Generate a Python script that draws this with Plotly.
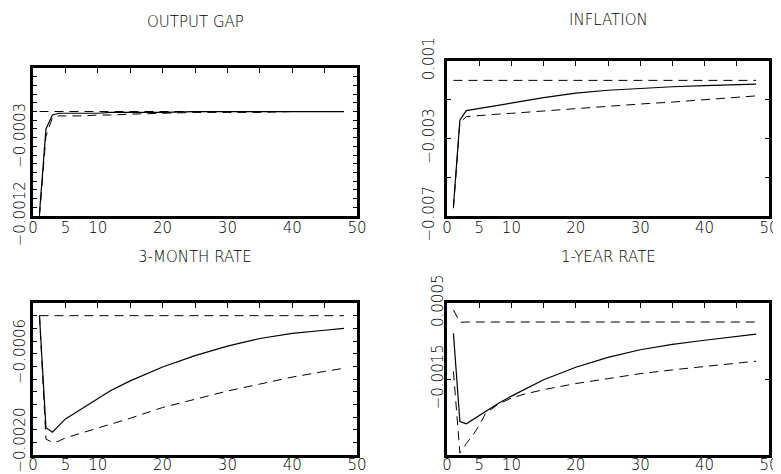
import plotly.graph_objects as go

W, H = 781, 474
OFF = 8  # the page body places the figure 8 px from the top-left corner

# ---------------- data ----------------
periods = [1, 2, 3, 4, 5, 6, 8, 10, 12, 15, 20, 25, 30, 35, 40, 45, 48]

gap_irf = [-0.00117, -0.00020, -0.00004, -0.00002, -0.00002, -0.00002, -0.00002, -0.00002,
           -0.00001, -0.00001, -0.00001, 0.0, 0.0, 0.0, 0.0, 0.0, 0.0]
gap_lo = [-0.00120, -0.00028, -0.00007, -0.00005, -0.00005, -0.00005, -0.00005, -0.00004,
          -0.00004, -0.00003, -0.00002, -0.00001, -0.00001, -0.00001, 0.0, 0.0, 0.0]
gap_hi = [0.0, 0.0, 0.0, 0.0, 0.0, 0.0, 0.0, 0.0, 0.0, 0.0, 0.0, 0.0, 0.0, 0.0, 0.0, 0.0, 0.0]

inf_irf = [-0.0065, -0.00205, -0.00156, -0.00150, -0.00145, -0.00139, -0.00128, -0.00118,
           -0.00106, -0.00089, -0.00066, -0.00051, -0.00041, -0.00033, -0.00027, -0.00022, -0.00019]
inf_lo = [-0.0066, -0.00218, -0.00187, -0.00184, -0.00181, -0.00179, -0.00174, -0.00170,
          -0.00165, -0.00158, -0.00144, -0.00133, -0.00122, -0.00112, -0.00101, -0.00090, -0.00080]
inf_hi = [0.0, 0.0, 0.0, 0.0, 0.0, 0.0, 0.0, 0.0, 0.0, 0.0, 0.0, 0.0, 0.0, 0.0, 0.0, 0.0, 0.0]

m3_irf = [0.0, -0.00177, -0.00184, -0.00174, -0.00163, -0.00157, -0.00144, -0.00130,
          -0.00118, -0.00103, -0.00081, -0.00063, -0.00048, -0.00036, -0.00028, -0.00023, -0.00020]
m3_lo = [0.0, -0.00195, -0.00200, -0.00198, -0.00193, -0.00190, -0.00184, -0.00177,
         -0.00171, -0.00162, -0.00145, -0.00132, -0.00119, -0.00108, -0.00097, -0.00088, -0.00083]
m3_hi = [0.0, 0.0, 0.0, 0.0, 0.0, 0.0, 0.0, 0.0, 0.0, 0.0, 0.0, 0.0, 0.0, 0.0, 0.0, 0.0, 0.0]

y1_irf = [-0.00030, -0.00262, -0.00268, -0.00257, -0.00246, -0.00236, -0.00214, -0.00195,
          -0.00178, -0.00152, -0.00119, -0.00093, -0.00073, -0.00059, -0.00048, -0.00038, -0.00032]
y1_lo = [-0.00130, -0.00345, -0.00320, -0.00298, -0.00272, -0.00240, -0.00216, -0.00200,
         -0.00190, -0.00178, -0.00162, -0.00149, -0.00136, -0.00126, -0.00117, -0.00108, -0.00103]
y1_hi = [0.00032, -0.00001, 0.0, 0.0, 0.0, 0.0, 0.0, 0.0, 0.0, 0.0, 0.0, 0.0, 0.0, 0.0, 0.0, 0.0, 0.0]

titles = ["OUTPUT GAP", "INFLATION", "3-MONTH RATE", "1-YEAR RATE"]

x_range = [0, 50]
x_tickvals = [0, 5, 10, 20, 30, 40, 50]
x_ticktext = ["0", "5", "10", "20", "30", "40", "50"]
top_tickvals = [5, 10, 15, 20, 25, 30, 35, 40, 45]

gap_range = [-0.0012, 0.0005]
gap_tickvals = [-0.0012, -0.0011, -0.0010, -0.0009, -0.0008, -0.0007, -0.0006, -0.0005, -0.0004,
                -0.0003, -0.0002, -0.0001, 0.0, 0.0001, 0.0002, 0.0003, 0.0004, 0.0005]
gap_ticktext = ["\u22120.0012", "", "", "", "", "", "", "", "",
                "\u22120.0003", "", "", "", "", "", "", "", ""]

inf_range = [-0.007, 0.001]
inf_tickvals = [-0.007, -0.005, -0.003, -0.001, 0.001]
inf_ticktext = ["\u22120.007", "", "\u22120.003", "", "0.001"]

m3_range = [-0.0022, 0.0002]
m3_tickvals = [-0.0022, -0.0020, -0.0018, -0.0016, -0.0014, -0.0012, -0.0010, -0.0008, -0.0006,
               -0.0004, -0.0002, 0.0, 0.0002]
m3_ticktext = ["", "\u22120.0020", "", "", "", "", "", "", "\u22120.0006", "", "", "", ""]

y1_range = [-0.0035, 0.0005]
y1_tickvals = [-0.0035, -0.0015, 0.0005]
y1_ticktext = ["", "\u22120.0015", "0.0005"]

# ---------------- layout geometry (pixels in the window) ----------------
boxes = [  # left, right, top, bottom
    (33, 357, 68, 216),
    (447, 769, 61, 216),
    (33, 357, 303, 455),
    (447, 769, 303, 455),
]
title_y = [22, 20, 257, 257]
ylab_standoff = [-1, 4, -1, -5]
xlab_standoff = [-4, -4, -6, -6]

panels = [
    (gap_irf, gap_lo, gap_hi, gap_range, gap_tickvals, gap_ticktext),
    (inf_irf, inf_lo, inf_hi, inf_range, inf_tickvals, inf_ticktext),
    (m3_irf, m3_lo, m3_hi, m3_range, m3_tickvals, m3_ticktext),
    (y1_irf, y1_lo, y1_hi, y1_range, y1_tickvals, y1_ticktext),
]

FW, FH = W - OFF, H - OFF


def px_x(v):
    return (v - OFF) / FW


def px_y(v):
    return 1 - (v - OFF) / FH


FONT = "DejaVu Sans"
fig = go.Figure()
layout = dict(
    width=FW, height=FH, autosize=False,
    margin=dict(l=0, r=0, t=0, b=0, pad=0),
    paper_bgcolor="white", plot_bgcolor="white",
    showlegend=False,
    annotations=[],
)

for i, (irf, lo, hi, yr, ytv, ytt) in enumerate(panels):
    n = i + 1
    xa = "x" if n == 1 else f"x{n}"
    ya = "y" if n == 1 else f"y{n}"
    top_n = n + 4
    l, r, t, b = boxes[i]
    dx = [px_x(l), px_x(r)]
    dy = [px_y(b), px_y(t)]

    for series, dash, wdt in ((hi, "9px,6px", 1.0), (lo, "9px,6px", 1.0), (irf, "solid", 1.2)):
        fig.add_trace(go.Scatter(
            x=periods, y=series, mode="lines", xaxis=xa, yaxis=ya,
            line=dict(color="black", width=wdt, dash=dash), hoverinfo="skip",
        ))
    # invisible trace to activate the top tick axis
    fig.add_trace(go.Scatter(x=[None], y=[None], xaxis=f"x{top_n}", yaxis=ya,
                             mode="lines", hoverinfo="skip"))

    layout["xaxis" if n == 1 else f"xaxis{n}"] = dict(
        domain=dx, anchor=ya, range=x_range, automargin=False,
        tickmode="array", tickvals=x_tickvals, ticktext=x_ticktext,
        ticks="", showgrid=False, zeroline=False,
        showline=True, linecolor="black", linewidth=2.5, mirror=True,
        tickfont=dict(family=FONT, size=15, color="black", weight=200),
        ticklabelstandoff=xlab_standoff[i], ticklabeloverflow="allow",
    )
    layout[f"xaxis{top_n}"] = dict(
        overlaying=xa, anchor=ya, side="top", range=x_range, automargin=False,
        tickmode="array", tickvals=top_tickvals, ticks="inside", ticklen=5,
        tickwidth=1, tickcolor="black", showticklabels=False,
        showgrid=False, zeroline=False, showline=False,
    )
    layout["yaxis" if n == 1 else f"yaxis{n}"] = dict(
        domain=dy, anchor=xa, range=yr, automargin=False,
        tickmode="array", tickvals=ytv, ticktext=ytt, tickangle=-90,
        ticks="inside", ticklen=4, tickwidth=1, tickcolor="black",
        showgrid=False, zeroline=False,
        showline=True, linecolor="black", linewidth=2.5, mirror="ticks",
        tickfont=dict(family=FONT, size=15, color="black", weight=200),
        ticklabelstandoff=ylab_standoff[i], ticklabeloverflow="allow",
    )
    layout["annotations"].append(dict(
        text=titles[i], xref="paper", yref="paper",
        x=(px_x(l) + px_x(r)) / 2, y=px_y(title_y[i]),
        xanchor="center", yanchor="middle", showarrow=False,
        font=dict(family=FONT, size=15, color="black", weight=200),
    ))

fig.update_layout(**layout)
fig.write_html("out.html")
